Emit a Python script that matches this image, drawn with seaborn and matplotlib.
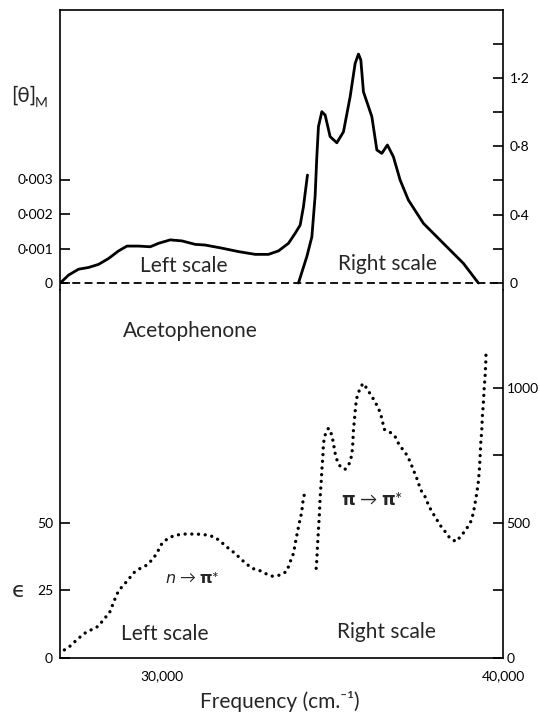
import matplotlib
matplotlib.use('Agg')
import matplotlib.pyplot as plt
import seaborn as sns

# CD curve, left scale ([theta]_M), frequency in cm-1
cd_left_freq = [27009, 27252, 27545, 27838, 28132, 28425, 28718, 28965, 29305, 29648,
                29891, 30235, 30578, 30968, 31261, 31751, 32238, 32728, 33118, 33411,
                33704, 33901, 34048, 34144, 34262]
cd_left_val = [0.0, 0.00023, 0.00040, 0.00045, 0.00054, 0.00071, 0.00093, 0.00107, 0.00107, 0.00105,
               0.00115, 0.00125, 0.00122, 0.00112, 0.00110, 0.00101, 0.00091, 0.00083, 0.00083, 0.00093,
               0.00115, 0.00144, 0.00168, 0.00221, 0.00313]

# CD curve, right scale
cd_right_freq = [33998, 34244, 34391, 34487, 34537, 34584, 34684, 34781, 34927, 35124,
                 35318, 35514, 35661, 35758, 35828, 35905, 36151, 36298, 36444, 36608,
                 36784, 36981, 37224, 37664, 38154, 38837, 39277]
cd_right_val = [0.0, 0.155, 0.27, 0.51, 0.74, 0.914, 1.002, 0.982, 0.856, 0.82,
                0.884, 1.089, 1.284, 1.339, 1.304, 1.118, 0.973, 0.778, 0.758, 0.807,
                0.738, 0.602, 0.485, 0.349, 0.251, 0.115, 0.0]

# absorption, left scale (epsilon)
abs_left_freq = [27129, 27296, 27492, 27715, 27912, 28132, 28307, 28445, 28601, 28718,
                 28865, 29011, 29158, 29355, 29550, 29744, 29891, 29991, 30167, 30381,
                 30674, 30918, 31115, 31340, 31554, 31751, 31945, 32141, 32337, 32630,
                 32826, 33022, 33218, 33460, 33657, 33754, 33851, 33921, 33998, 34048,
                 34097, 34115, 34194]
abs_left_val = [2.9, 4.3, 6.6, 9.0, 10.3, 11.7, 14.6, 16.4, 21.4, 24.8,
                26.9, 29.0, 31.4, 33.1, 34.3, 36.8, 39.9, 42.3, 44.2, 45.4,
                45.8, 45.8, 45.7, 45.4, 44.6, 42.6, 40.5, 38.6, 36.2, 33.1,
                32.5, 31.2, 30.2, 30.6, 32.0, 35.5, 38.6, 43.5, 48.4, 51.5,
                54.0, 56.8, 62.1]

# absorption, right scale
abs_right_freq = [34517, 34537, 34555, 34584, 34614, 34634, 34663, 34684, 34713, 34731,
                  34781, 34878, 34977, 35024, 35074, 35142, 35241, 35367, 35494, 35564,
                  35593, 35611, 35640, 35661, 35690, 35728, 35787, 35887, 36004, 36121,
                  36247, 36365, 36444, 36511, 36667, 36834, 36931, 37030, 37177, 37274,
                  37371, 37471, 37588, 37714, 37811, 37911, 38037, 38154, 38301, 38447,
                  38623, 38790, 38937, 39054, 39130, 39180, 39230, 39277, 39306, 39327,
                  39347, 39377, 39394, 39424, 39444, 39474, 39494, 39503]
abs_right_val = [331, 362, 411, 473, 535, 596, 646, 695, 744, 794,
                 825, 850, 825, 794, 757, 726, 705, 698, 720, 751,
                 794, 843, 880, 911, 948, 973, 991, 1016, 998, 973,
                 948, 917, 887, 846, 837, 819, 794, 776, 751, 726,
                 695, 664, 621, 596, 566, 541, 516, 491, 467, 442,
                 430, 454, 479, 504, 535, 572, 609, 652, 695, 744,
                 794, 843, 893, 942, 991, 1041, 1090, 1140]

top_left_ticks = [0, 0.001, 0.002, 0.003]
top_left_labels = ['0', '0·001', '0·002', '0·003']
top_right_ticks = [0, 0.2, 0.4, 0.6, 0.8, 1.0, 1.2, 1.4]
top_right_labels = ['0', '', '0·4', '', '0·8', '', '1·2', '']
bot_left_ticks = [0, 25, 50]
bot_left_labels = ['0', '25', '50']
bot_right_ticks = [0, 250, 500, 750, 1000]
bot_right_labels = ['0', '', '500', '', '1000']
x_ticks = [30000, 35000, 40000]
x_labels = ['30,000', '', '40,000']

sns.set_style('white')
plt.rcParams['font.family'] = ['Lato', 'DejaVu Sans']
plt.rcParams['mathtext.fontset'] = 'dejavusans'

W, H = 540, 717
fig = plt.figure(figsize=(W / 100, H / 100), dpi=100)

def px(x, y):
    return x / W, 1 - y / H

ax = fig.add_axes([60 / W, 1 - 290 / H, 443 / W, 280 / H])
ax2 = ax.twinx()
bx = fig.add_axes([60 / W, 1 - 657.7 / H, 443 / W, 367.7 / H])
bx2 = bx.twinx()

solid = dict(color='black', lw=2.0)
sns.lineplot(x=cd_left_freq, y=cd_left_val, ax=ax, **solid)
sns.lineplot(x=cd_right_freq, y=cd_right_val, ax=ax2, **solid)
ax.axhline(0, color='black', lw=1.3, ls=(0, (4.4, 2.4)))

dotted = dict(color='black', lw=2.4, ls=(0, (0.01, 2.0)), dash_capstyle='round')
sns.lineplot(x=abs_left_freq, y=abs_left_val, ax=bx, **dotted)
sns.lineplot(x=abs_right_freq, y=abs_right_val, ax=bx2, **dotted)

for a in (ax, ax2, bx, bx2):
    a.set_xlim(27000, 40000)
    a.set_xlabel('')
    a.set_ylabel('')
    for s in a.spines.values():
        s.set_linewidth(1.2)
        s.set_color('black')

ax.set_ylim(-7 / 34.5 * 0.001, 273 / 34.5 * 0.001)
ax2.set_ylim(-7 / 171, 273 / 171)
bx.set_ylim(0, 367.7 / 67.5 * 25)
bx2.set_ylim(0, 367.7 / 67.5 * 250)

ax.spines['bottom'].set_visible(False)
for s in ax2.spines.values():
    s.set_visible(False)
bx.spines['top'].set_visible(False)
for s in bx2.spines.values():
    s.set_visible(False)

tk = dict(direction='in', length=7, width=1.2, colors='black', labelsize=10)
ax.set_yticks(top_left_ticks, top_left_labels)
ax.tick_params(axis='y', pad=5, **tk)
ax.tick_params(axis='x', bottom=False, labelbottom=False)
ax2.set_yticks(top_right_ticks, top_right_labels)
ax2.tick_params(axis='y', pad=5, **tk)
bx.set_yticks(bot_left_ticks, bot_left_labels)
bx.tick_params(axis='y', pad=5, **tk)
bx.set_xticks(x_ticks, x_labels)
bx.tick_params(axis='x', pad=9, **tk)
bx2.set_yticks(bot_right_ticks, bot_right_labels)
bx2.tick_params(axis='y', pad=2.5, **tk)

fs = 15
fig.text(*px(23.5, 96), '[θ]', fontsize=15, ha='center', va='center')
fig.text(*px(41, 103), 'M', fontsize=10, ha='center', va='center')
fig.text(*px(18.5, 591), 'ϵ', fontsize=16, ha='center', va='center', family=['DejaVu Sans'])
fig.text(*px(190, 337), 'Acetophenone', fontsize=fs, ha='center', va='baseline')
fig.text(*px(183.5, 271.5), 'Left scale', fontsize=fs, ha='center', va='baseline')
fig.text(*px(387.5, 270), 'Right scale', fontsize=fs, ha='center', va='baseline')
fig.text(*px(164.5, 640), 'Left scale', fontsize=fs, ha='center', va='baseline')
fig.text(*px(386, 638), 'Right scale', fontsize=fs, ha='center', va='baseline')
fig.text(*px(192, 583), r'$\mathit{n}$ → $\mathbf{\pi}$*', fontsize=11.5, ha='center', va='baseline')
fig.text(*px(372.5, 505), r'$\mathbf{\pi}$ → $\mathbf{\pi}$*', fontsize=12.5, ha='center', va='baseline')
fig.text(*px(280, 708), 'Frequency (cm.⁻¹)', fontsize=fs, ha='center', va='baseline')

fig.savefig('out.png', dpi=100)
